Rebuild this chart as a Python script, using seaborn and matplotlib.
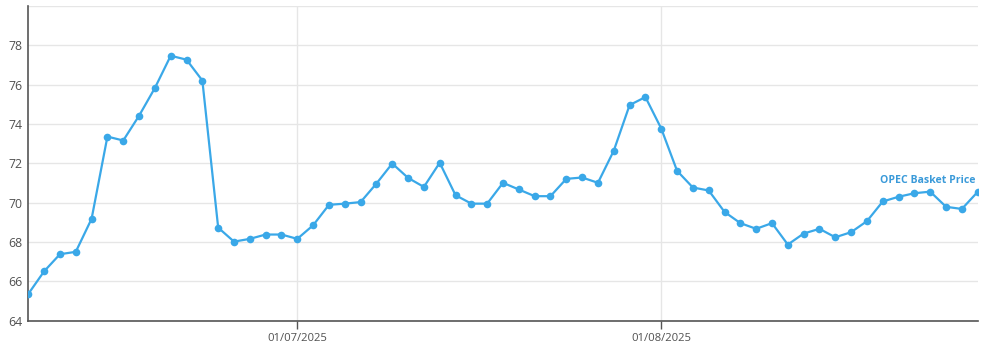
import numpy as np
import pandas as pd
import matplotlib
matplotlib.use("Agg")
import matplotlib.pyplot as plt
import seaborn as sns

# Business-day index (06/06/2025 .. 29/08/2025)
dates = pd.bdate_range("2025-06-06", "2025-08-29")
prices = [
    65.36, 66.51, 67.38, 67.50, 69.18, 73.36, 73.16, 74.42, 75.83, 77.47,
    77.27, 76.21, 68.73, 68.02, 68.16, 68.38, 68.38, 68.16, 68.85, 69.89,
    69.95, 70.03, 70.97, 71.99, 71.26, 70.80, 72.03, 70.38, 69.95, 69.95,
    71.01, 70.67, 70.33, 70.33, 71.21, 71.28, 71.01, 72.64, 74.96, 75.37,
    73.77, 71.62, 70.77, 70.62, 69.53, 68.96, 68.67, 68.96, 67.87, 68.43,
    68.67, 68.24, 68.50, 69.06, 70.06, 70.30, 70.48, 70.56, 69.79, 69.68,
    70.55,
]
tick_labels = ["01/07/2025", "01/08/2025"]
y_ticks = [64, 66, 68, 70, 72, 74, 76, 78]
series_name = "OPEC Basket Price"

df = pd.DataFrame({"date": dates[:len(prices)], "price": prices})
df["idx"] = np.arange(len(df))

sns.set_theme(style="white")
plt.rcParams["font.family"] = ["Open Sans", "DejaVu Sans"]

fig = plt.figure(figsize=(10, 3.56), dpi=100)
ax = fig.add_axes([0.0283, 0.0992, 0.9494, 0.884])

color = "#3aa8e8"
sns.lineplot(data=df, x="idx", y="price", ax=ax, color=color, linewidth=1.6,
             marker="o", markersize=5.5, markeredgewidth=0, zorder=3)

ax.set_xlim(0, len(df) - 1)
ax.set_ylim(64, 80)
ax.set_yticks(y_ticks + [80])
ax.set_yticklabels([str(v) for v in y_ticks] + [""])

tick_dates = [pd.to_datetime(d, format="%d/%m/%Y") for d in tick_labels]
tick_pos = [int(df.index[df["date"] == d][0]) for d in tick_dates]
ax.set_xticks(tick_pos)
ax.set_xticklabels(tick_labels)

ax.grid(True, color="#e6e6e6", linewidth=1)
ax.set_xlabel("")
ax.set_ylabel("")

for s in ["top", "right"]:
    ax.spines[s].set_visible(False)
ax.spines["left"].set_color("#555555")
ax.spines["bottom"].set_color("#555555")
ax.spines["left"].set_linewidth(1.2)
ax.spines["bottom"].set_linewidth(1.2)

ax.tick_params(axis="y", length=0, pad=4, labelsize=8.8, labelcolor="#505050")
ax.tick_params(axis="x", length=6, width=1, color="#555555", pad=3, labelsize=8.1, labelcolor="#505050", direction="out")
ax.xaxis.set_ticks_position("bottom")

last = df.iloc[-1]
ax.text(last["idx"] - 0.15, last["price"] + 0.3, series_name, color="#3a9ad9",
        fontsize=7.6, fontweight="bold", ha="right", va="bottom")

fig.savefig("out.png", dpi=100)
